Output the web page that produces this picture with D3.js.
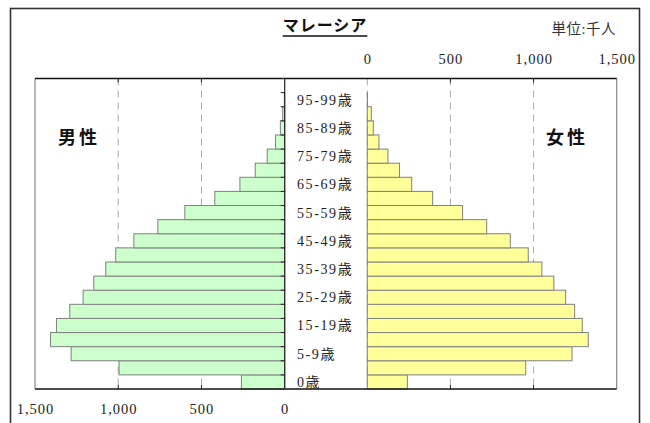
<!DOCTYPE html>
<html><head><meta charset="utf-8">
<script src="https://cdn.jsdelivr.net/npm/d3@7"></script>
<style>
body{margin:0;background:#fff;}
svg{display:block;}
text{font-family:"Liberation Serif","Noto Sans CJK JP",serif;}
</style></head>
<body><svg id="c" width="650" height="423"></svg>
<script>
const categories = ["0歳","1-4歳","5-9歳","10-14歳","15-19歳","20-24歳","25-29歳","30-34歳","35-39歳","40-44歳","45-49歳","50-54歳","55-59歳","60-64歳","65-69歳","70-74歳","75-79歳","80-84歳","85-89歳","90-94歳","95-99歳","100歳以上"];
const male   = [260, 995, 1283, 1407, 1371, 1291, 1211, 1147, 1075, 1015, 906, 762, 600, 420, 269, 177, 105, 55, 26, 12, 2, 0];
const female = [241, 953, 1231, 1329, 1293, 1247, 1193, 1122, 1050, 968, 860, 718, 573, 393, 267, 194, 124, 70, 36, 24, 1, 0];
const ticks = [0, 500, 1000, 1500];
const title = "マレーシア";
const unit = "単位:千人";
const maleLabel = "男性", femaleLabel = "女性";

const svg = d3.select("#c");
const plotTop = 78.5, plotBottom = 389;
const xL = d3.scaleLinear().domain([0,1500]).range([284.7, 35]);
const xR = d3.scaleLinear().domain([0,1500]).range([367.3, 616.7]);
const y = d3.scaleBand().domain(categories).range([plotBottom, plotTop]).padding(0);

// outer border
svg.append("rect").attr("x",10.5).attr("y",8.5).attr("width",629).attr("height",430)
  .attr("fill","none").attr("stroke","#333").attr("stroke-width",1.6);

// gridlines (dashed)
function grid(x, vals){
  svg.append("g").selectAll("line").data(vals).join("line")
    .attr("x1",d=>x(d)).attr("x2",d=>x(d)).attr("y1",plotTop).attr("y2",plotBottom)
    .attr("stroke","#aaa").attr("stroke-dasharray","7,5").attr("stroke-width",1);
}
grid(xL,[500,1000]);
grid(xR,[0,500,1000]);

// plot frame edges
svg.append("line").attr("x1",xL(1500)).attr("x2",xL(1500)).attr("y1",plotTop).attr("y2",plotBottom).attr("stroke","#888").attr("stroke-width",1.2);
svg.append("line").attr("x1",xR(1500)).attr("x2",xR(1500)).attr("y1",plotTop).attr("y2",plotBottom).attr("stroke","#888").attr("stroke-width",1.2);

// bars
svg.append("g").selectAll("rect").data(male).join("rect")
  .attr("x",d=>xL(d)).attr("y",(d,i)=>y(categories[i]))
  .attr("width",d=>xL(0)-xL(d)).attr("height",y.bandwidth())
  .attr("fill","#ccffcc").attr("stroke","#808080").attr("stroke-width",1);
svg.append("g").selectAll("rect").data(female).join("rect")
  .attr("x",xR(0)).attr("y",(d,i)=>y(categories[i]))
  .attr("width",d=>xR(d)-xR(0)).attr("height",y.bandwidth())
  .attr("fill","#ffff99").attr("stroke","#808080").attr("stroke-width",1);

// top and bottom lines
svg.append("line").attr("x1",35).attr("x2",616.7).attr("y1",plotTop).attr("y2",plotTop).attr("stroke","#111").attr("stroke-width",1.3);
svg.append("line").attr("x1",35).attr("x2",616.7).attr("y1",plotBottom).attr("y2",plotBottom).attr("stroke","#111").attr("stroke-width",1.3);

// center axis of male plot with ticks at category boundaries
svg.append("line").attr("x1",xL(0)).attr("x2",xL(0)).attr("y1",plotTop).attr("y2",plotBottom).attr("stroke","#222").attr("stroke-width",1.2);
svg.append("g").selectAll("line").data(categories).join("line")
  .attr("x1",xL(0)-4).attr("x2",xL(0)).attr("y1",d=>y(d)).attr("y2",d=>y(d))
  .attr("stroke","#222").attr("stroke-width",1);

// inward ticks on top/bottom frames
function frameTicks(x, vals){
  const g = svg.append("g");
  g.selectAll("line.t").data(vals).join("line").attr("class","t")
    .attr("x1",d=>x(d)).attr("x2",d=>x(d)).attr("y1",plotTop).attr("y2",plotTop+4).attr("stroke","#222");
  g.selectAll("line.b").data(vals).join("line").attr("class","b")
    .attr("x1",d=>x(d)).attr("x2",d=>x(d)).attr("y1",plotBottom).attr("y2",plotBottom-4).attr("stroke","#222");
}
frameTicks(xL,[500,1000]);
frameTicks(xR,[500,1000]);

// axis labels
const fmt = d3.format(",");
const axB = d3.axisBottom(xL).tickValues(ticks).tickFormat(fmt).tickSize(0).tickPadding(0);
const gB = svg.append("g").attr("transform",`translate(0,${plotBottom+15})`).call(axB);
gB.select(".domain").remove();
gB.selectAll("text").attr("font-size",14.5).attr("fill","#222").attr("font-family","Liberation Serif").attr("letter-spacing",1);
const axT = d3.axisTop(xR).tickValues(ticks).tickFormat(fmt).tickSize(0).tickPadding(0);
const gT = svg.append("g").attr("transform",`translate(0,${plotTop-15})`).call(axT);
gT.select(".domain").remove();
gT.selectAll("text").attr("font-size",14.5).attr("fill","#222").attr("font-family","Liberation Serif").attr("letter-spacing",1);

// category labels (every other)
svg.append("g").selectAll("text").data(categories.filter((d,i)=>i%2===0)).join("text")
  .attr("x",297).attr("y",d=>y(d)+y.bandwidth()/2+5)
  .attr("font-size",14).attr("letter-spacing",1.6).attr("fill","#222").text(d=>d);

// title
const t = svg.append("text").attr("x",325).attr("y",31).attr("text-anchor","middle")
  .attr("font-size",16).attr("letter-spacing",1).attr("font-weight","bold").attr("fill","#111")
  .attr("font-family","Noto Sans CJK JP").text(title);
const bb = t.node().getBBox();
svg.append("line").attr("x1",bb.x).attr("x2",bb.x+bb.width).attr("y1",36).attr("y2",36).attr("stroke","#111").attr("stroke-width",1.6);

svg.append("text").attr("x",616).attr("y",34).attr("text-anchor","end").attr("font-size",14.5).attr("letter-spacing",0.5).attr("fill","#333")
  .attr("font-family","Noto Sans CJK JP").text(unit);

svg.append("text").attr("x",79).attr("y",144).attr("text-anchor","middle").attr("font-size",18).attr("font-weight","bold")
  .attr("fill","#111").attr("font-family","Noto Sans CJK JP").attr("letter-spacing",3).text(maleLabel);
svg.append("text").attr("x",567).attr("y",144).attr("text-anchor","middle").attr("font-size",18).attr("font-weight","bold")
  .attr("fill","#111").attr("font-family","Noto Sans CJK JP").attr("letter-spacing",3).text(femaleLabel);
</script></body></html>
